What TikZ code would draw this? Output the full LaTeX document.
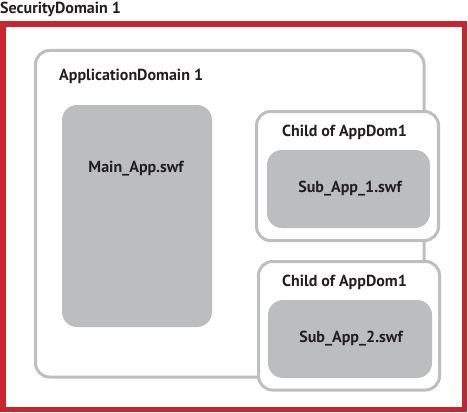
\documentclass[tikz,border=0pt]{standalone}
\usepackage{fontspec}
\setmainfont{PT Sans}
\begin{document}
\begin{tikzpicture}[x=1pt,y=-1pt,
  lbl/.style={font=\fontsize{16}{18}\selectfont\bfseries, text=txt, inner sep=0pt},
  domainbox/.style={draw=grayline, line width=3pt, rounded corners=14pt},
  childbox/.style={draw=grayline, line width=3pt, fill=white, rounded corners=14pt},
  swfbox/.style={fill=grayfill, rounded corners=15pt},
  secbox/.style={draw=secred, line width=5.5pt}]
\definecolor{secred}{HTML}{C8252C}
\definecolor{grayline}{HTML}{BCBEC0}
\definecolor{grayfill}{HTML}{BCBDBF}
\definecolor{txt}{HTML}{231F20}
\useasboundingbox (0,0) rectangle (468,412);
% security domain
\draw[secbox] (2.75,24) rectangle (464.25,409.25);
\node[lbl, anchor=west] (sec) at (0,9.5) {SecurityDomain 1};
% application domain
\draw[domainbox] (35.5,50.5) rectangle (424,377);
\node[lbl, anchor=west] (app) at (59,76) {ApplicationDomain 1};
% main app
\fill[swfbox] (62,105) rectangle (212,327);
\node[lbl] (main) at (136,169) {Main\_App.swf};
% child 1
\draw[childbox] (256.5,111.5) rectangle (438.5,240.5);
\node[lbl] (c1) at (344.5,132) {Child of AppDom1};
\fill[swfbox] (267,150) rectangle (430,228);
\node[lbl] (s1) at (350,189) {Sub\_App\_1.swf};
% child 2
\draw[childbox] (258.5,261.5) rectangle (439.5,390);
\node[lbl] (c2) at (344.5,282) {Child of AppDom1};
\fill[swfbox] (268,300) rectangle (432,378);
\node[lbl] (s2) at (351,339) {Sub\_App\_2.swf};
\end{tikzpicture}
\end{document}
